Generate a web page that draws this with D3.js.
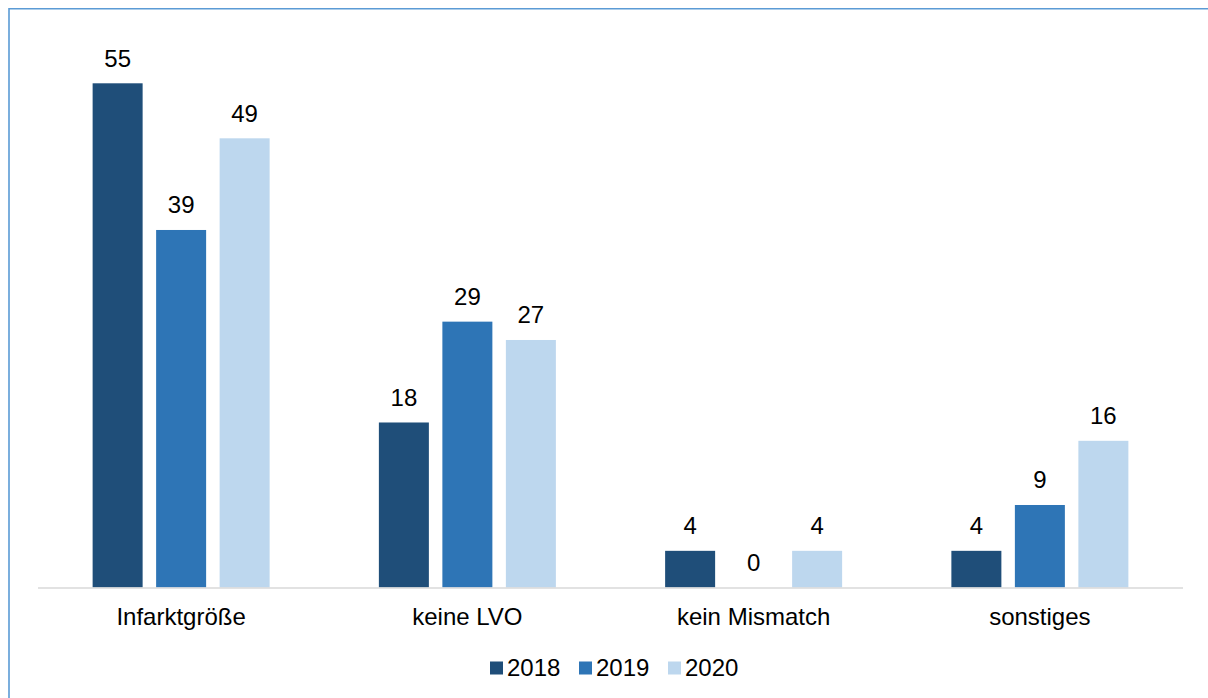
<!DOCTYPE html>
<html>
<head>
<meta charset="utf-8">
<script src="https://cdn.jsdelivr.net/npm/d3@7"></script>
<style>
  html, body { margin: 0; padding: 0; background: #ffffff; }
  svg { display: block; }
  text { font-family: "Liberation Sans", Arial, sans-serif; fill: #000; }
</style>
</head>
<body>
<svg id="chart" width="1208" height="698"></svg>
<script>
// Reasons, per year
const categories = ["Infarktgröße", "keine LVO", "kein Mismatch", "sonstiges"];
const years = ["2018", "2019", "2020"];
const values2018 = [55, 18, 4, 4];
const values2019 = [39, 29, 0, 9];
const values2020 = [49, 27, 4, 16];
const seriesColors = ["#1f4e79", "#2e75b6", "#bdd7ee"];

const seriesValues = [values2018, values2019, values2020];
const rows = categories.map((c, i) => ({
  category: c,
  values: years.map((y, j) => ({ year: y, value: seriesValues[j][i] }))
}));

const svg = d3.select("#chart");
const W = 1208, H = 698;
const fontSize = "24px";

// Frame lines along the top and left edge
svg.append("path")
  .attr("d", `M9,${H} L9,8.75 L${W},8.75`)
  .attr("fill", "none")
  .attr("stroke", "#5b9bd5")
  .attr("stroke-width", 1.6);

const plot = { left: 38, right: 1183, base: 587.5 };

const x0 = d3.scaleBand()
  .domain(categories)
  .range([plot.left, plot.right])
  .paddingInner(0)
  .paddingOuter(0);

const groupWidth = 177;
const x1 = d3.scaleBand()
  .domain(years)
  .range([-groupWidth / 2, groupWidth / 2])
  .paddingInner(0.2126)
  .paddingOuter(0);

const y = d3.scaleLinear()
  .domain([0, 55])
  .range([plot.base, 83.3]);

const color = d3.scaleOrdinal().domain(years).range(seriesColors);

const groups = svg.append("g").selectAll("g")
  .data(rows)
  .join("g")
  .attr("transform", d => `translate(${x0(d.category) + x0.bandwidth() / 2},0)`);

groups.selectAll("rect")
  .data(d => d.values)
  .join("rect")
  .attr("x", d => x1(d.year))
  .attr("width", x1.bandwidth())
  .attr("y", d => y(d.value))
  .attr("height", d => y(0) - y(d.value))
  .attr("fill", d => color(d.year));

groups.selectAll("text.val")
  .data(d => d.values)
  .join("text")
  .attr("class", "val")
  .attr("x", d => x1(d.year) + x1.bandwidth() / 2)
  .attr("y", d => y(d.value) - 16.5)
  .attr("text-anchor", "middle")
  .style("font-size", fontSize)
  .text(d => d.value);

// Category axis line
svg.append("line")
  .attr("x1", plot.left).attr("x2", plot.right)
  .attr("y1", plot.base + 0.5).attr("y2", plot.base + 0.5)
  .attr("stroke", "#d9d9d9")
  .attr("stroke-width", 1.6);

svg.append("g").selectAll("text")
  .data(categories)
  .join("text")
  .attr("x", d => x0(d) + x0.bandwidth() / 2)
  .attr("y", 624.5)
  .attr("text-anchor", "middle")
  .style("font-size", fontSize)
  .text(d => d);

// Legend
const legend = svg.append("g").attr("transform", "translate(490,0)");
const item = legend.selectAll("g")
  .data(years)
  .join("g")
  .attr("transform", (d, i) => `translate(${i * 89},0)`);
item.append("rect")
  .attr("x", 0).attr("y", 661.5)
  .attr("width", 13).attr("height", 13)
  .attr("fill", d => color(d));
item.append("text")
  .attr("x", 17)
  .attr("y", 675.5)
  .style("font-size", fontSize)
  .text(d => d);
</script>
</body>
</html>
